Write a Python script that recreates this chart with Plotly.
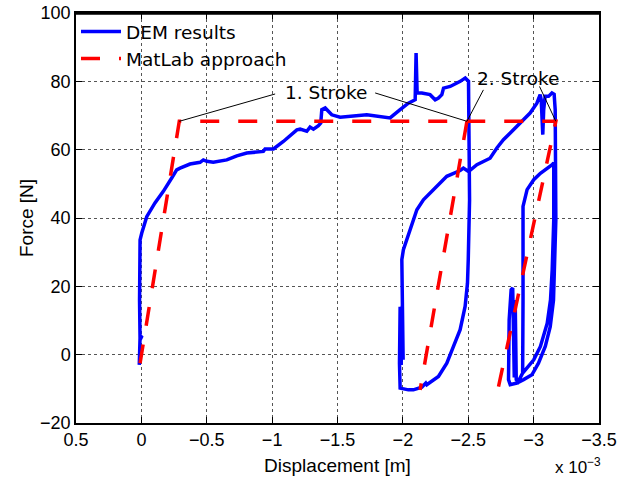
import plotly.graph_objects as go

# ---- data (displacement in units of 1e-3 m, force in N) ----
dem_x = [0.016, 0.010, -0.005, 0.010, 0.014, 0.016, 0.010, -0.003, -0.041, -0.104,
         -0.168, -0.232, -0.270, -0.296, -0.372, -0.449, -0.474, -0.500, -0.550, -0.653,
         -0.730, -0.806, -0.933, -0.946, -1.010, -1.086, -1.189, -1.214, -1.265, -1.290,
         -1.316, -1.354, -1.372, -1.380, -1.406, -1.456, -1.520, -1.724, -1.826, -1.902,
         -1.979, -2.042, -2.094, -2.101, -2.109, -2.145, -2.208, -2.247, -2.272, -2.298,
         -2.311, -2.362, -2.439, -2.477, -2.502, -2.507,
         -2.510, -2.500, -2.494, -2.476, -2.438, -2.387, -2.336, -2.272, -2.208, -2.183,
         -2.175, -2.145, -2.080, -2.042, -1.979, -1.974,
         -1.979, -1.987, -1.995, -2.002, -1.995, -1.992, -2.004, -2.056, -2.081, -2.107,
         -2.157, -2.208, -2.259, -2.336, -2.438, -2.463, -2.502, -2.566, -2.667, -2.719,
         -2.769, -2.846, -2.897, -2.973, -3.025, -3.050, -3.058, -3.070, -3.077, -3.088,
         -3.114, -3.140, -3.157, -3.165,
         -3.170, -3.165, -3.152, -3.127, -3.089, -3.037, -2.987, -2.923, -2.872, -2.821,
         -2.808, -2.813, -2.828, -2.840, -2.848, -2.852, -2.859, -2.867, -2.882, -2.898,
         -2.916,
         -2.919, -2.919, -2.950, -3.001, -3.052, -3.090, -3.142, -3.154,
         -3.154, -3.142, -3.129, -3.104, -3.052, -3.001, -2.950, -2.916]
dem_y = [-3.0, 5.2, 5.5, 4.3, 16.0, 30.7, 33.6, 35.6, 40.4, 44.4,
         47.8, 51.7, 54.1, 54.6, 55.8, 56.3, 57.0, 56.6, 56.3, 57.0,
         58.2, 59.0, 59.5, 60.2, 60.2, 62.4, 65.8, 66.0, 65.4, 66.6,
         66.0, 67.0, 67.8, 71.7, 72.2, 70.2, 69.5, 70.2, 69.7, 69.3,
         71.7, 73.6, 74.6, 88.3, 76.6, 76.6, 76.1, 74.6, 75.1, 76.1,
         78.0, 78.5, 80.0, 81.0, 80.0, 67.8,
         45.3, 27.8, 20.9, 14.1, 7.3, 2.4, -2.5, -6.4, -8.3, -8.8,
         -8.3, -9.5, -10.3, -10.3, -9.8, -2.5,
         14.0, -3.0, 14.3, -1.5, 10.2, 27.8, 30.7, 36.5, 39.5, 42.4,
         45.3, 47.3, 49.2, 52.2, 53.9, 54.6, 53.6, 55.6, 57.5, 60.5,
         62.9, 65.8, 67.8, 70.7, 73.6, 76.1, 74.6, 64.4, 71.7, 75.6,
         75.6, 76.6, 76.2, 71.7,
         39.5, 29.7, 16.0, 8.2, 2.4, -2.5, -5.9, -7.3, -8.3, -8.8,
         -7.3, 10.2, 19.0, 19.5, 7.3, -6.7, 16.0, -7.3, -7.9, -6.7,
         -5.4,
         16.0, 43.4, 48.3, 51.2, 53.1, 54.1, 55.6, 56.1,
         39.5, 24.8, 16.0, 9.2, 2.4, -1.5, -4.0, -5.4]

matlab_x = [0.010, -0.290, -3.170, -2.726]
matlab_y = [-2.5, 68.3, 68.3, -10.3]
matlab_unload1_x = [-2.490, -2.132]
matlab_unload1_y = [68.3, -10.3]

# annotation anchors: text position, and leader lines (from, to)
labels = ["1. Stroke", "2. Stroke"]
label_x = [-1.409, -2.878]
label_y = [76.7, 80.8]
leader_from_x = [-1.023, -1.788, -2.616, -3.045]
leader_from_y = [76.3, 76.6, 77.5, 78.5]
leader_to_x = [-0.290, -2.490, -2.490, -3.170]
leader_to_y = [68.3, 68.3, 68.3, 68.3]

x_ticks = [0.5, 0, -0.5, -1, -1.5, -2, -2.5, -3, -3.5]
y_ticks = [-20, 0, 20, 40, 60, 80, 100]

fig = go.Figure()
fig.add_trace(go.Scatter(x=dem_x, y=dem_y, mode="lines", name="DEM results",
                         line=dict(color="#0000ff", width=3.5), legendgroup="dem"))
fig.add_trace(go.Scatter(x=matlab_x, y=matlab_y, mode="lines", name="MatLab approach",
                         line=dict(color="#ff0000", width=3.5, dash="19px,19px"),
                         legendgroup="ml"))
fig.add_trace(go.Scatter(x=matlab_unload1_x, y=matlab_unload1_y, mode="lines",
                         showlegend=False, legendgroup="ml",
                         line=dict(color="#ff0000", width=3.5, dash="19px,19px")))

for fx, fy, tx, ty in zip(leader_from_x, leader_from_y, leader_to_x, leader_to_y):
    fig.add_shape(type="line", xref="x", yref="y", x0=fx, y0=fy, x1=tx, y1=ty,
                  line=dict(color="black", width=1))

# top edge of the axes box
fig.add_shape(type="line", xref="paper", yref="paper", x0=0, y0=0.998, x1=1, y1=0.998,
              line=dict(color="black", width=2))

for t, lx, ly in zip(labels, label_x, label_y):
    fig.add_annotation(x=lx, y=ly, xref="x", yref="y", text=t, showarrow=False,
                       font=dict(family="DejaVu Sans", size=18.5, color="black"))

fig.add_annotation(x=1.008, y=-0.105, xref="paper", yref="paper",
                   text="x 10<sup>−3</sup>", showarrow=False, xanchor="right",
                   yanchor="middle",
                   font=dict(family="Liberation Sans", size=17, color="black"))

axis_common = dict(showline=True, linecolor="black", linewidth=1.5, mirror="ticks",
                   ticks="inside", ticklen=6, tickcolor="black", tickwidth=1,
                   showgrid=True, gridcolor="#555555", gridwidth=1, griddash="dot",
                   zeroline=False, automargin=False,
                   tickfont=dict(family="Liberation Sans", size=18, color="black"),
                   title_font=dict(family="Liberation Sans", size=19, color="black"))

fig.update_xaxes(range=[0.5, -3.5], tickvals=x_ticks, title_text="Displacement [m]",
                 title_standoff=9, **axis_common)
fig.update_yaxes(range=[-20, 100], tickvals=y_ticks, title_text="Force [N]",
                 title_standoff=1, **axis_common)

fig.update_layout(
    width=619, height=482,
    margin=dict(l=76, r=20, t=13, b=59, autoexpand=False),
    paper_bgcolor="white", plot_bgcolor="white",
    showlegend=True,
    legend=dict(x=0.0, y=1.0, xanchor="left", yanchor="top",
                bgcolor="rgba(255,255,255,0)", borderwidth=0,
                font=dict(family="DejaVu Sans", size=18.5, color="black"),
                tracegroupgap=0, itemwidth=40),
)

# remove the default page margin so the figure sits at the window's top-left corner
fig.write_html("out.html", config={"displayModeBar": False},
               post_script="document.body.style.margin='0';document.body.style.padding='0';")
